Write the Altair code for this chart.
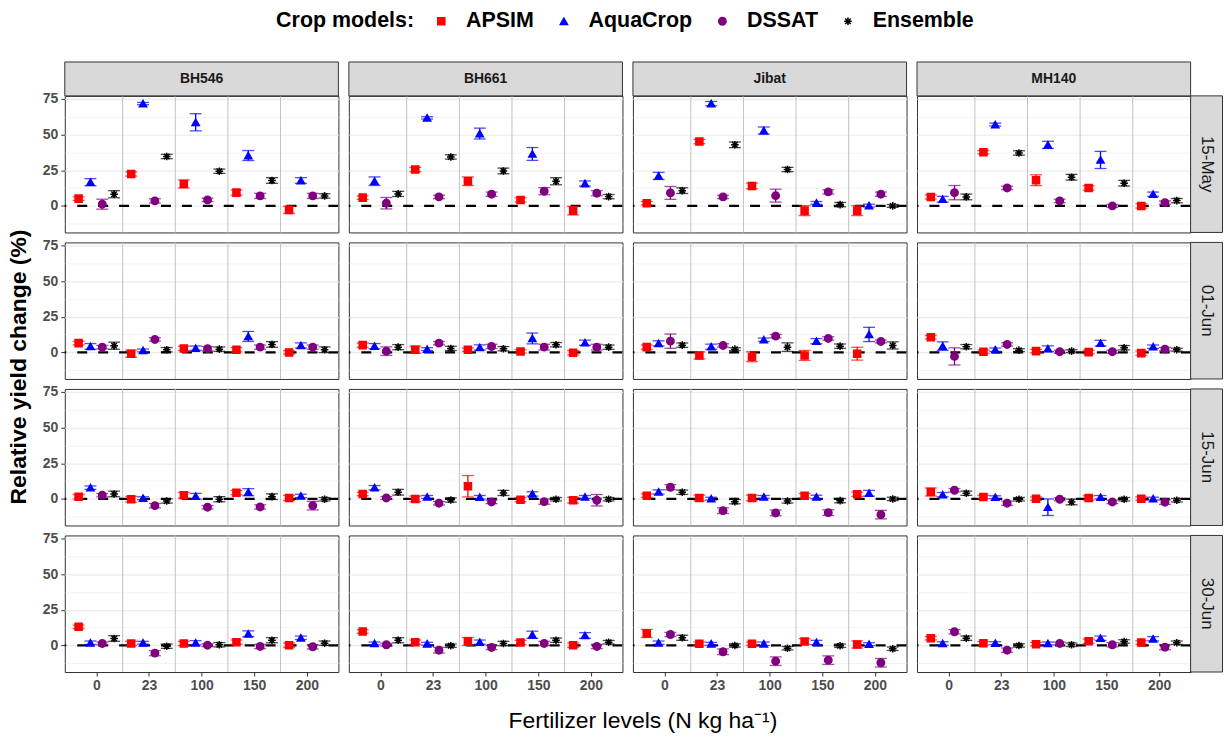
import itertools

import altair as alt
import pandas as pd

FONT = "Liberation Sans"

VARIETIES = ["BH546", "BH661", "Jibat", "MH140"]
SOWING_DATES = ["15-May", "01-Jun", "15-Jun", "30-Jun"]
N_LEVELS = ["0", "23", "100", "150", "200"]
MODELS = ["APSIM", "AquaCrop", "DSSAT", "Ensemble"]
MODEL_COLORS = ["#ff0000", "#0000ff", "#800080", "#000000"]

Y_BREAKS = [-12.5, 0, 12.5, 25, 37.5, 50, 62.5, 75]

# Relative yield change (%): one row per sowing date x variety
# (BH546, BH661, Jibat, MH140 within each date), one column per N level.
APSIM_MEAN = [
    [5.1, 22.4, 15.4, 9.3, -2.8], [5.8, 25.5, 17.3, 4.2, -3.3],
    [1.9, 45.1, 14.0, -3.3, -3.3], [6.3, 37.6, 18.0, 12.6, 0.0],
    [6.5, -0.9, 2.8, 1.9, 0.0], [5.1, 1.9, 1.9, 0.7, -0.2],
    [3.7, -2.1, -3.0, -2.1, -0.9], [10.7, 0.5, 0.9, 0.2, -0.5],
    [1.6, -0.2, 2.6, 4.4, 0.7], [3.5, 0.0, 8.9, -0.5, -0.9],
    [2.3, 0.7, 0.7, 2.3, 3.3], [4.9, 1.4, 0.2, 0.7, 0.2],
    [13.1, 1.4, 1.4, 2.3, 0.2], [9.8, 2.3, 2.8, 2.1, 0.2],
    [8.4, 1.2, 1.2, 2.8, 0.7], [5.1, 1.6, 0.9, 3.0, 2.1],
]
APSIM_ERR = [
    [1.2, 1.5, 2.8, 1.8, 2.5], [1.2, 1.5, 3.0, 1.5, 3.0],
    [1.2, 1.5, 2.0, 3.5, 3.5], [1.5, 1.2, 3.8, 1.5, 1.5],
    [1.2, 2.5, 1.5, 1.5, 1.2], [1.5, 2.5, 1.2, 1.2, 1.5],
    [1.5, 2.5, 3.5, 3.5, 4.5], [1.2, 1.2, 1.2, 1.2, 1.5],
    [1.5, 2.0, 2.0, 1.5, 1.8], [1.2, 2.0, 7.5, 1.5, 2.0],
    [1.2, 2.0, 2.0, 1.5, 1.5], [2.8, 1.2, 1.2, 1.5, 1.2],
    [1.2, 1.5, 1.5, 1.5, 1.5], [1.2, 1.5, 2.8, 1.5, 1.5],
    [2.8, 1.2, 1.2, 2.0, 2.5], [1.2, 1.2, 1.2, 1.5, 1.2],
]

AQUACROP_MEAN = [
    [16.6, 71.7, 58.6, 35.3, 17.8], [17.3, 61.7, 50.7, 36.4, 15.7],
    [21.0, 71.7, 52.8, 2.1, 0.2], [4.7, 57.0, 42.8, 32.2, 8.2],
    [4.2, 1.4, 3.0, 11.2, 4.9], [4.4, 2.3, 3.5, 9.8, 6.8],
    [6.3, 4.0, 8.9, 7.9, 12.6], [4.4, 1.9, 2.6, 6.5, 4.0],
    [7.9, 0.5, 1.9, 4.7, 2.1], [7.9, 1.4, 1.2, 3.5, 1.4],
    [4.9, 0.2, 1.4, 1.4, 4.0], [3.0, 1.2, -5.8, 1.2, 0.2],
    [1.9, 1.9, 1.9, 8.2, 5.4], [1.4, 1.2, 2.3, 7.5, 7.0],
    [1.9, 1.2, 1.2, 2.1, 0.9], [1.4, 1.6, 1.4, 5.1, 4.7],
]
AQUACROP_ERR = [
    [2.5, 0.8, 6.0, 3.5, 2.0], [3.0, 0.8, 3.8, 4.5, 1.8],
    [2.5, 1.5, 2.5, 1.0, 1.0], [2.0, 1.0, 2.5, 6.0, 1.5],
    [2.0, 1.0, 1.5, 3.5, 1.8], [1.8, 1.0, 1.8, 3.8, 1.8],
    [1.8, 1.8, 1.2, 1.8, 5.0], [3.0, 1.2, 2.0, 2.0, 1.2],
    [1.2, 1.0, 2.0, 2.5, 1.2], [1.5, 1.0, 1.2, 1.5, 1.0],
    [1.5, 1.0, 1.0, 1.2, 2.0], [1.5, 1.0, 5.8, 1.2, 1.0],
    [1.2, 1.0, 1.5, 2.0, 1.2], [1.0, 1.0, 1.5, 2.5, 2.0],
    [1.2, 1.0, 1.2, 1.5, 1.0], [1.2, 1.0, 1.0, 1.5, 1.5],
]

DSSAT_MEAN = [
    [1.2, 3.5, 4.2, 7.0, 7.0], [1.9, 6.3, 8.2, 10.3, 8.9],
    [9.1, 6.3, 7.2, 9.8, 8.2], [9.3, 12.6, 3.5, 0.0, 2.3],
    [3.7, 9.1, 2.6, 3.7, 3.7], [0.9, 6.5, 4.2, 3.7, 3.7],
    [7.9, 4.9, 11.4, 9.8, 7.7], [-2.8, 5.6, 0.5, 0.5, 2.3],
    [2.6, -4.7, -5.8, -5.6, -4.7], [0.7, -3.0, -2.1, -1.9, -0.9],
    [8.2, -8.2, -9.8, -9.6, -11.0], [6.1, -3.0, -0.2, -2.1, -2.3],
    [1.4, -5.4, 0.2, -0.7, -0.9], [0.5, -3.3, -1.4, 1.4, -0.7],
    [7.7, -4.4, -11.0, -10.3, -12.1], [9.6, -3.3, 1.4, 0.5, -1.2],
]
DSSAT_ERR = [
    [3.5, 1.5, 1.2, 1.8, 1.8], [4.0, 1.2, 1.5, 2.5, 1.8],
    [4.5, 1.2, 4.5, 1.5, 1.5], [5.0, 1.2, 1.2, 1.0, 1.2],
    [1.2, 1.2, 1.5, 1.5, 1.5], [3.0, 1.2, 1.5, 2.0, 2.0],
    [5.0, 1.2, 1.2, 1.2, 1.0], [6.0, 1.2, 1.0, 1.0, 1.2],
    [1.2, 1.5, 1.2, 1.5, 3.0], [1.0, 1.2, 1.2, 1.8, 4.0],
    [1.8, 2.0, 2.0, 2.0, 3.0], [1.2, 1.5, 1.0, 1.2, 1.5],
    [1.0, 1.8, 1.0, 1.5, 1.5], [1.0, 2.0, 1.5, 1.5, 1.5],
    [1.5, 2.0, 3.0, 3.0, 3.0], [1.5, 1.5, 1.0, 1.5, 1.8],
]

ENSEMBLE_MEAN = [
    [8.2, 34.6, 24.3, 17.8, 7.0], [8.4, 34.3, 24.5, 17.3, 6.5],
    [10.7, 42.8, 25.5, 0.9, 0.0], [6.3, 37.1, 20.1, 15.9, 3.7],
    [4.7, 1.9, 2.3, 5.6, 1.9], [3.7, 2.8, 2.6, 5.4, 3.7],
    [5.1, 2.3, 3.7, 4.4, 4.9], [4.0, 1.6, 0.9, 3.3, 1.9],
    [3.5, -1.4, -0.2, 1.6, -0.2], [4.7, -0.7, 4.2, -0.2, -0.2],
    [4.7, -1.9, -1.4, -1.2, 0.0], [4.0, -0.2, -2.1, -0.2, -0.9],
    [4.9, -0.5, 0.5, 3.7, 1.6], [3.7, -0.2, 1.4, 3.7, 2.3],
    [5.4, 0.0, -1.9, -0.2, -2.3], [5.1, 0.0, 0.5, 2.8, 1.9],
]
ENSEMBLE_ERR = [
    [2.5, 1.5, 1.5, 2.0, 1.5], [1.8, 1.5, 2.0, 2.5, 1.5],
    [2.0, 2.0, 1.5, 1.5, 1.0], [2.0, 1.5, 2.0, 2.0, 1.5],
    [2.5, 1.5, 1.5, 2.0, 2.0], [1.8, 1.5, 1.5, 1.5, 1.5],
    [1.5, 1.0, 3.0, 1.5, 2.5], [1.5, 1.0, 1.0, 1.5, 1.0],
    [2.0, 1.5, 1.8, 2.0, 1.2], [2.0, 1.5, 1.8, 1.2, 1.2],
    [1.5, 1.5, 1.5, 1.5, 1.2], [1.5, 1.2, 2.0, 1.2, 1.2],
    [2.0, 1.5, 1.5, 1.8, 1.5], [1.8, 1.2, 1.5, 1.5, 1.2],
    [1.8, 1.2, 1.2, 1.2, 1.2], [1.5, 1.2, 1.2, 1.2, 1.2],
]

MEANS = {"APSIM": APSIM_MEAN, "AquaCrop": AQUACROP_MEAN,
         "DSSAT": DSSAT_MEAN, "Ensemble": ENSEMBLE_MEAN}
ERRS = {"APSIM": APSIM_ERR, "AquaCrop": AQUACROP_ERR,
        "DSSAT": DSSAT_ERR, "Ensemble": ENSEMBLE_ERR}

records = []
for mi, model in enumerate(MODELS):
    for k, (date, variety) in enumerate(itertools.product(SOWING_DATES, VARIETIES)):
        for li, level in enumerate(N_LEVELS):
            m = MEANS[model][k][li]
            e = ERRS[model][k][li]
            records.append({"date": date, "variety": variety, "model": model,
                            "level": level, "li": li, "mi": mi,
                            "mean": m, "lo": m - e, "hi": m + e})
df = pd.DataFrame(records)

# ---- panel geometry ---------------------------------------------------------
W, H = 274.5, 137
STRIP_H = 34
STRIP_W = 32
DODGE = 0.225  # spacing of the four models inside one N-level slot

X_SCALE = alt.Scale(domain=[0.4, len(N_LEVELS) + 0.6], nice=False, zero=False)
Y_SCALE = alt.Scale(domain=[-18.6, 77.1], nice=False, zero=False)
COLOR_SCALE = alt.Scale(domain=MODELS, range=MODEL_COLORS)
ASTERISK = "M-1,0L1,0M0,-1L0,1M-0.72,-0.72L0.72,0.72M-0.72,0.72L0.72,-0.72"
SHAPE_SCALE = alt.Scale(domain=MODELS, range=["square", "triangle-up", "circle", ASTERISK])
SIZE_SCALE = alt.Scale(domain=MODELS, range=[50, 58, 42, 210])

IS_MAJOR = "datum.value % 25 == 0"
label_expr = "[" + ",".join(f"'{lv}'" for lv in N_LEVELS) + "][datum.value - 1]"

X_AXIS = alt.Axis(values=list(range(1, len(N_LEVELS) + 1)), labelExpr=label_expr,
                  tickSize=4, tickColor="#333333", labelFontSize=14,
                  labelFontWeight="bold", labelColor="#4d4d4d", labelPadding=3,
                  domain=False, grid=False, title=None)
Y_AXIS = alt.Axis(values=Y_BREAKS, labelExpr=f"{IS_MAJOR} ? datum.label : ''",
                  labelOverlap=False, tickSize=4, tickColor="#333333",
                  tickOpacity={"condition": {"test": IS_MAJOR, "value": 1}, "value": 0},
                  labelFontSize=14, labelFontWeight="bold", labelColor="#4d4d4d",
                  labelPadding=3, domain=False, grid=True, gridColor="#ebebeb",
                  gridWidth={"condition": {"test": IS_MAJOR, "value": 1.2}, "value": 0.6},
                  minExtent=10, title=None)

LEGEND_TITLE = "Crop models:"
LEGEND = alt.Legend(
    orient="none", legendX=212, legendY=-86, direction="horizontal",
    title=LEGEND_TITLE, titleOrient="left", titleFontSize=21.5,
    titleFontWeight="bold", titleColor="#000000", titlePadding=16,
    titleBaseline="middle", titleAnchor="middle",
    labelFontSize=21.5, labelFontWeight="bold", labelColor="#000000",
    labelOffset=14, columnPadding=19, symbolStrokeWidth=1.5,
)

X = alt.X("pos:Q", scale=X_SCALE, axis=X_AXIS, title=None)


def y_enc(field):
    return alt.Y(field, scale=Y_SCALE, axis=Y_AXIS, title=None)


def model_channel(cls):
    return cls("model:N", scale=COLOR_SCALE, legend=LEGEND, title=LEGEND_TITLE)


base = alt.Chart().transform_calculate(pos=f"datum.li + 1 + (datum.mi - 1.5) * {DODGE}")
one_per_panel = (alt.datum.model == MODELS[0]) & (alt.datum.li == 0)

# light separators between the N-level slots
seps = alt.Chart().transform_filter(
    (alt.datum.model == MODELS[0]) & (alt.datum.li >= 1)
).transform_calculate(sep="datum.li + 0.5").mark_rule(
    color="#c2c2c2", strokeWidth=1
).encode(x=alt.X("sep:Q", scale=X_SCALE, axis=X_AXIS, title=None))

zero = alt.Chart().transform_filter(one_per_panel).mark_rule(
    color="#000000", strokeWidth=2.2, strokeDash=[10, 11]
).encode(y=alt.YDatum(0, scale=Y_SCALE, axis=Y_AXIS, title=None))

bars = base.mark_rule(strokeWidth=1.3).encode(
    x=X, y=y_enc("lo:Q"), y2="hi:Q", stroke=model_channel(alt.Stroke))
cap_lo = base.mark_tick(orient="horizontal", size=12, thickness=1.3).encode(
    x=X, y=y_enc("lo:Q"), fill=model_channel(alt.Fill))
cap_hi = base.mark_tick(orient="horizontal", size=12, thickness=1.3).encode(
    x=X, y=y_enc("hi:Q"), fill=model_channel(alt.Fill))
pts = base.mark_point(filled=True, opacity=1, strokeWidth=1.5).encode(
    x=X, y=y_enc("mean:Q"),
    fill=model_channel(alt.Fill),
    stroke=model_channel(alt.Stroke),
    shape=alt.Shape("model:N", scale=SHAPE_SCALE, legend=LEGEND, title=LEGEND_TITLE),
    size=alt.Size("model:N", scale=SIZE_SCALE, legend=LEGEND, title=LEGEND_TITLE),
)

# grey strips: variety names above the top row, sowing dates right of the last column
top_rows = alt.Chart().transform_filter(one_per_panel & (alt.datum.date == SOWING_DATES[0]))
strip_top_box = top_rows.mark_rect(fill="#d9d9d9", stroke="#333333", strokeWidth=1).encode(
    x=alt.value(0), x2=alt.value(W), y=alt.value(-STRIP_H), y2=alt.value(0))
strip_top_txt = top_rows.mark_text(
    fontSize=14, fontWeight="bold", color="#1a1a1a", baseline="middle", align="center"
).encode(text="variety:N", x=alt.value(W / 2), y=alt.value(-STRIP_H / 2))

right_col = alt.Chart().transform_filter(one_per_panel & (alt.datum.variety == VARIETIES[-1]))
strip_right_box = right_col.mark_rect(fill="#d9d9d9", stroke="#333333", strokeWidth=1).encode(
    x=alt.value(W), x2=alt.value(W + STRIP_W), y=alt.value(0), y2=alt.value(H))
strip_right_txt = right_col.mark_text(
    fontSize=17, color="#1a1a1a", angle=90, baseline="middle", align="center"
).encode(text="date:N", x=alt.value(W + STRIP_W / 2), y=alt.value(H / 2))

panel = alt.layer(
    seps, zero, bars, cap_lo, cap_hi, pts,
    strip_top_box, strip_top_txt, strip_right_box, strip_right_txt,
    data=df,
).properties(width=W, height=H)

chart = panel.facet(
    column=alt.Column("variety:N", sort=VARIETIES, header=alt.Header(
        labels=False, title="Fertilizer levels (N kg ha\u207b\u00b9)", titleOrient="bottom",
        titleFontSize=23, titleFontWeight="normal", titleColor="#000000", titlePadding=7)),
    row=alt.Row("date:N", sort=SOWING_DATES, header=alt.Header(
        labels=False, title="Relative yield change (%)", titleOrient="left",
        titleFontSize=23, titleFontWeight="bold", titleColor="#000000", titlePadding=1)),
    spacing={"row": 10, "column": 10},
    bounds="flush",
).properties(
    padding={"left": 7, "top": 9, "right": 0, "bottom": 0}
).configure(font=FONT).configure_view(stroke="#333333", strokeWidth=1)

chart.save("out.html", embed_options={"renderer": "svg", "actions": False})
